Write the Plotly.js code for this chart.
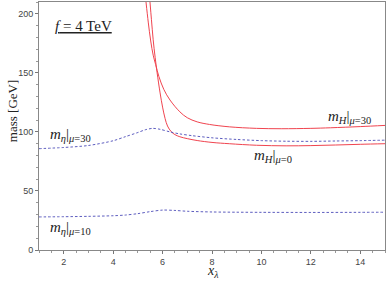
<!DOCTYPE html>
<html>
<head>
<meta charset="utf-8">
<script src="https://cdn.plot.ly/plotly-3.0.1.min.js"></script>
<style>
  html, body { margin: 0; padding: 0; background: #fff; }
  #plot { width: 387px; height: 281px; }
</style>
</head>
<body>
<div id="plot"></div>
<script>
// m_H, mu = 0 (steeper red curve)
var xH0 = [5.49, 5.55, 5.62, 5.7, 5.78, 5.9, 6.0, 6.1, 6.2, 6.35, 6.5, 6.7, 7.0, 7.4, 8.0, 8.7, 9.8, 11.0, 12.0, 13.0, 14.0, 15.0];
var yH0 = [210, 195, 178, 163, 150, 133, 121, 111.5, 105, 100.2, 97.7, 95.9, 94.3, 92.7, 91.1, 90.0, 88.7, 88.2, 88.4, 88.9, 89.5, 90.0];

// m_H, mu = 30
var xH30 = [5.33, 5.42, 5.52, 5.62, 5.72, 5.85, 6.05, 6.3, 6.7, 7.0, 7.4, 7.9, 8.7, 9.8, 10.8, 12.0, 12.8, 14.0, 15.0];
var yH30 = [210, 193, 177, 165, 157, 147, 136, 127, 117, 112, 108.5, 106.3, 104.3, 103.0, 102.7, 103.0, 103.5, 104.5, 105.5];

// m_eta, mu = 30
var xE30 = [1, 2, 3, 4, 4.5, 5, 5.3, 5.6, 5.9, 6.3, 6.7, 7.2, 8, 9, 10, 11, 12, 13, 14, 15];
var yE30 = [85.8, 86.8, 88.5, 92.5, 96.0, 99.5, 101.8, 103.0, 102.2, 100.0, 98.3, 96.8, 95.0, 93.6, 92.6, 92.1, 92.0, 92.3, 92.6, 93.0];

// m_eta, mu = 10
var xE10 = [1, 2, 3, 4, 4.5, 5, 5.5, 6, 6.5, 7, 8, 9, 10, 12, 14, 15];
var yE10 = [28.0, 28.2, 28.5, 29.0, 29.6, 30.8, 32.5, 33.8, 33.5, 32.8, 32.2, 32.0, 31.9, 31.8, 31.9, 32.0];

var xTicks = [2, 4, 6, 8, 10, 12, 14];
var yTicks = [0, 50, 100, 150, 200];

var red = '#f0444f';
var blue = '#4b4bb8';

var data = [
  {x: xH0, y: yH0, type: 'scatter', mode: 'lines', line: {color: red, width: 1, shape: 'spline', smoothing: 1}, hoverinfo: 'none'},
  {x: xH30, y: yH30, type: 'scatter', mode: 'lines', line: {color: red, width: 1, shape: 'spline', smoothing: 1}, hoverinfo: 'none'},
  {x: xE30, y: yE30, type: 'scatter', mode: 'lines', line: {color: blue, width: 0.9, dash: '2.5px,2px', shape: 'spline', smoothing: 0.8}, hoverinfo: 'none'},
  {x: xE10, y: yE10, type: 'scatter', mode: 'lines', line: {color: blue, width: 0.9, dash: '2.5px,2px', shape: 'spline', smoothing: 0.8}, hoverinfo: 'none'}
];

var serif = 'Liberation Serif, DejaVu Serif, serif';
var labelFont = {family: serif, size: 15, color: '#222'};

var layout = {
  width: 387,
  height: 281,
  margin: {l: 39, r: 2, t: 2, b: 31},
  paper_bgcolor: '#fff',
  plot_bgcolor: '#fff',
  showlegend: false,
  xaxis: {
    range: [1, 15],
    tickvals: xTicks,
    ticks: 'outside',
    ticklen: 3,
    tickcolor: '#777',
    minor: {dtick: 0.5, ticks: 'outside', ticklen: 2, tickcolor: '#999'},
    showgrid: false,
    zeroline: false,
    showline: true,
    linecolor: '#888',
    linewidth: 1,
    mirror: true,
    tickfont: {family: 'Liberation Sans, Arial, sans-serif', size: 9, color: '#444'}
  },
  yaxis: {
    range: [0, 210],
    tickvals: yTicks,
    ticks: 'outside',
    ticklen: 3,
    tickcolor: '#777',
    minor: {dtick: 10, ticks: 'outside', ticklen: 2, tickcolor: '#999'},
    showgrid: false,
    zeroline: false,
    showline: true,
    linecolor: '#888',
    linewidth: 1,
    mirror: true,
    tickfont: {family: 'Liberation Sans, Arial, sans-serif', size: 9, color: '#444'}
  },
  annotations: [
    // axis titles
    {xref: 'paper', yref: 'paper', x: 0.5, y: -0.086, xanchor: 'center', yanchor: 'middle', showarrow: false,
     text: '<i>x</i><sub><i>λ</i></sub>', font: {family: serif, size: 14, color: '#222'}},
    {xref: 'paper', yref: 'paper', x: -0.078, y: 0.56, xanchor: 'center', yanchor: 'middle', showarrow: false,
     textangle: -90, text: 'mass [GeV]', font: {family: serif, size: 13, color: '#222'}},
    // curve labels
    {xref: 'paper', yref: 'paper', x: 0.04, y: 0.905, xanchor: 'left', yanchor: 'middle', showarrow: false,
     text: '<u><i>f</i> = 4 TeV</u>', font: {family: serif, size: 15, color: '#222'}},
    {xref: 'x', yref: 'y', x: 14.5, y: 112.5, xanchor: 'right', yanchor: 'middle', showarrow: false,
     text: '<i>m</i><sub><i>H</i></sub>|<sub><i>μ</i>=30</sub>', font: labelFont},
    {xref: 'x', yref: 'y', x: 9.6, y: 80, xanchor: 'left', yanchor: 'middle', showarrow: false,
     text: '<i>m</i><sub><i>H</i></sub>|<sub><i>μ</i>=0</sub>', font: labelFont},
    {xref: 'x', yref: 'y', x: 1.35, y: 97, xanchor: 'left', yanchor: 'middle', showarrow: false,
     text: '<i>m</i><sub><i>η</i></sub>|<sub><i>μ</i>=30</sub>', font: labelFont},
    {xref: 'x', yref: 'y', x: 1.35, y: 18.5, xanchor: 'left', yanchor: 'middle', showarrow: false,
     text: '<i>m</i><sub><i>η</i></sub>|<sub><i>μ</i>=10</sub>', font: labelFont}
  ]
};

Plotly.newPlot('plot', data, layout, {displayModeBar: false, staticPlot: true});
</script>
</body>
</html>
